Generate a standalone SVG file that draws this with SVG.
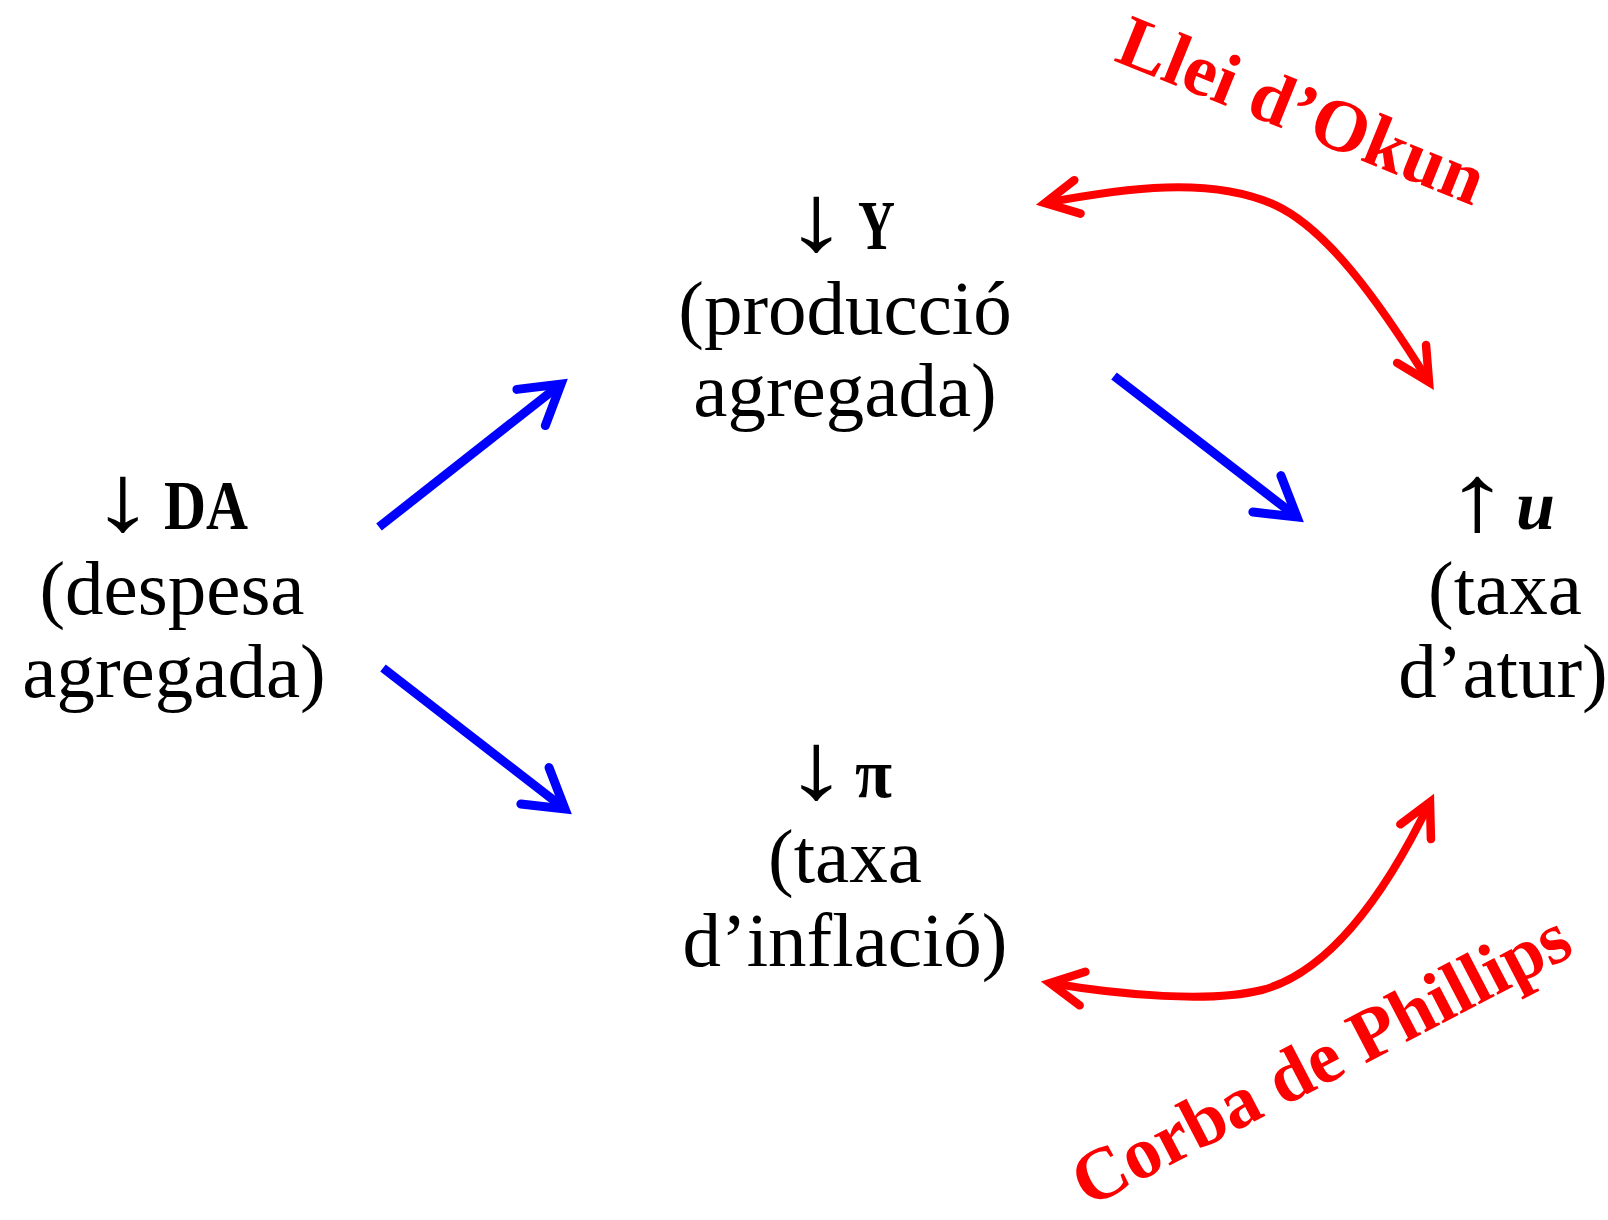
<svg xmlns="http://www.w3.org/2000/svg" width="1608" height="1220" viewBox="0 0 1608 1220">
<style>
.t{font-family:"Liberation Serif",serif;font-size:77px;fill:#000}
.m{text-anchor:middle}
.a{font-size:95px;text-anchor:middle}
.b{font-weight:bold;font-size:70px}
.r{font-family:"Liberation Serif",serif;font-size:74px;font-weight:bold;fill:#f00;text-anchor:middle}
.blue{fill:none;stroke:#00f;stroke-width:9;marker-end:url(#hb)}
.red{fill:none;stroke:#f00;stroke-width:8;marker-end:url(#hr);marker-start:url(#hr)}
</style>
<defs>
<marker id="hb" markerUnits="userSpaceOnUse" orient="auto-start-reverse" markerWidth="1" markerHeight="1" style="overflow:visible">
<path d="M-38,-23 L0,0 L-38,23" fill="none" stroke="#00f" stroke-width="9" stroke-linecap="round" stroke-linejoin="miter"/>
</marker>
<marker id="hr" markerUnits="userSpaceOnUse" orient="auto-start-reverse" markerWidth="1" markerHeight="1" style="overflow:visible">
<path d="M-33,-17 L0,0 L-33,17" fill="none" stroke="#f00" stroke-width="8.5" stroke-linecap="round" stroke-linejoin="miter"/>
</marker>
</defs>
<rect width="1608" height="1220" fill="#fff"/>
<g id="connectors">
<path class="blue" d="M379,527 L561,384"/>
<path class="blue" d="M383,668 L565,809"/>
<path class="blue" d="M1114,376 L1297,517"/>
<path class="red" d="M1045,203 C1125,188 1210,176 1275,205 C1325,228 1375,295 1429,382"/>
<path class="red" d="M1050,983 C1120,995 1210,1003 1262,990 C1330,972 1385,895 1430,802"/>
</g>
<g id="node-da">
<text class="t a" transform="translate(122.5,530) scale(1.35,1)">↓</text>
<text class="t b" x="164" y="529" textLength="84" lengthAdjust="spacingAndGlyphs">DA</text>
<text class="t m" x="172" y="614">(despesa</text>
<text class="t m" x="174" y="697">agregada)</text>
</g>
<g id="node-y">
<text class="t a" transform="translate(816,250) scale(1.35,1)">↓</text>
<text class="t b" x="858" y="249" textLength="37" lengthAdjust="spacingAndGlyphs">Y</text>
<text class="t m" x="845" y="334">(producció</text>
<text class="t m" x="845" y="416">agregada)</text>
</g>
<g id="node-pi">
<text class="t a" transform="translate(816,798) scale(1.35,1)">↓</text>
<text class="t b" x="855" y="797" textLength="37" lengthAdjust="spacingAndGlyphs">π</text>
<text class="t m" x="845" y="882">(taxa</text>
<text class="t m" x="845" y="966">d’inflació)</text>
</g>
<g id="node-u">
<text class="t a" transform="translate(1477,530) scale(1.35,1)">↑</text>
<text class="t b" x="1516" y="529" font-style="italic">u</text>
<text class="t m" x="1505" y="614">(taxa</text>
<text class="t m" x="1503" y="697">d’atur)</text>
</g>
<g id="label-okun">
<text class="r" transform="translate(1293,133) rotate(22)">Llei d’Okun</text>
</g>
<g id="label-phillips">
<text class="r" transform="translate(1332,1081) rotate(-27.5)">Corba de Phillips</text>
</g>
</svg>
